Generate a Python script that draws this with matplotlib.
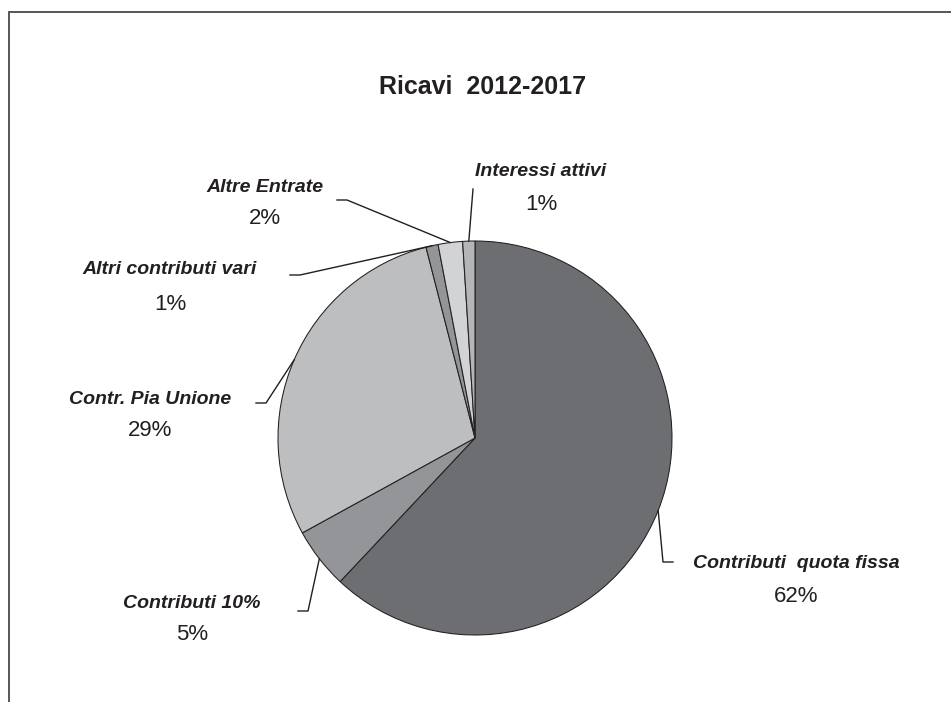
import matplotlib
matplotlib.use("Agg")
import numpy as np
import matplotlib.pyplot as plt

plt.rcParams['font.family'] = ['Liberation Sans', 'DejaVu Sans']

# Ricavi 2012-2017, quote percentuali
voci = ['Contributi  quota fissa', 'Contributi 10%', 'Contr. Pia Unione',
        'Altri contributi vari', 'Altre Entrate', 'Interessi attivi']
quote = [62, 5, 29, 1, 2, 1]
colori = ['#6d6e71', '#939598', '#bcbec0', '#939598', '#d1d3d4', '#b3b5b8']

W, H = 951, 702
def py(y):
    # coordinate in pixel dall'alto -> coordinate del grafico
    return H - y

# posizione etichette (centro testo voce, centro testo percentuale)
pos_etichette = [(796, 564, 596), (192, 604, 634), (150, 399, 431),
                 (170, 270, 305), (265, 188, 218), (541, 172, 204)]
# gomito della linea di richiamo e fine del tratto orizzontale
gomiti = [((663, 562), (673, 562)), ((308, 611), (298, 611)),
          ((266, 403), (256, 403)), ((300, 275), (290, 275)),
          ((347, 200), (337, 200)), ((473, 189), None)]

fig = plt.figure(figsize=(W / 100, H / 100), dpi=100)
ax = fig.add_axes([0, 0, 1, 1])

# cornice (solo lato sinistro e superiore)
ax.plot([9, 9, W], [0, py(12), py(12)], color='#4a4a4a', lw=1.3,
        solid_capstyle='butt', solid_joinstyle='miter')

centro = (475, py(438))
raggio = 197
wedges, _ = ax.pie(quote, colors=colori, startangle=90, counterclock=False,
                   center=centro, radius=raggio, frame=True,
                   wedgeprops=dict(edgecolor='#231f20', linewidth=0.75))
ax.set_xlim(0, W)
ax.set_ylim(0, H)
ax.set_aspect('equal')
ax.axis('off')

for w, voce, q, (lx, ly, pyy), (g, fine) in zip(wedges, voci, quote,
                                                 pos_etichette, gomiti):
    a = np.deg2rad((w.theta1 + w.theta2) / 2)
    x0 = centro[0] + raggio * np.cos(a)
    y0 = centro[1] + raggio * np.sin(a)
    xs = [x0, g[0]]
    ys = [y0, py(g[1])]
    if fine is not None:
        xs.append(fine[0])
        ys.append(py(fine[1]))
    ax.plot(xs, ys, color='#231f20', lw=1.0)
    ax.text(lx, py(ly), voce, ha='center', va='center', fontsize=14,
            fontweight='bold', fontstyle='italic', color='#231f20')
    ax.text(lx, py(pyy), f'{q}%', ha='center', va='center', fontsize=16,
            color='#231f20')

ax.text(483, py(94), 'Ricavi  2012-2017', ha='center', va='baseline',
        fontsize=18, fontweight='bold', color='#231f20')

fig.savefig('out.png', dpi=100)
